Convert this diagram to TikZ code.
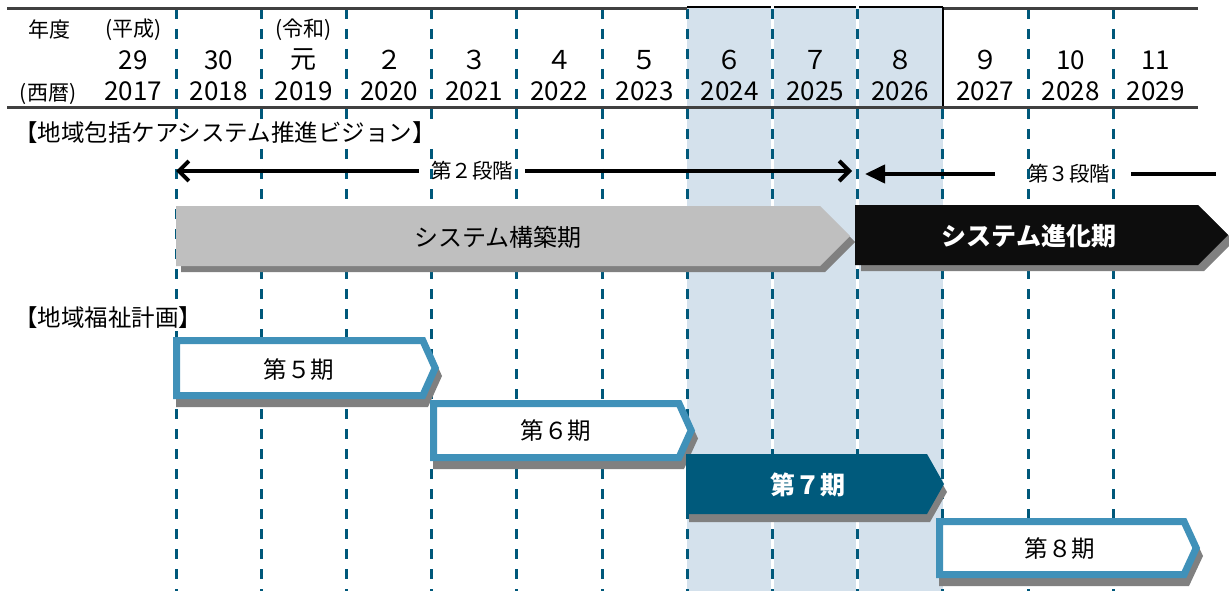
\documentclass[tikz,border=0pt]{standalone}
\usepackage{fontspec}
\setmainfont{Noto Sans CJK JP}
\usetikzlibrary{arrows.meta}
\definecolor{dashblue}{HTML}{00587A}
\definecolor{shadeblue}{HTML}{D4E1EC}
\definecolor{outblue}{HTML}{4091B9}
\definecolor{tealseven}{HTML}{005A7C}
\definecolor{bargray}{HTML}{BFBFBF}
\definecolor{shadowgray}{HTML}{808080}
\definecolor{barblack}{HTML}{0D0D0D}
\definecolor{hdrline}{HTML}{404040}
\begin{document}
\begin{tikzpicture}[x=1pt,y=-1pt,
  hdr/.style={inner sep=0pt, font=\fontsize{26}{30}\selectfont},
  hdrs/.style={inner sep=0pt, font=\fontsize{21}{25}\selectfont},
  ttl/.style={inner xsep=0pt, inner ysep=2pt, anchor=west, fill=white, font=\fontsize{23.5}{28}\selectfont},
  stg/.style={inner sep=0pt, font=\fontsize{20.5}{24}\selectfont},
  per/.style={inner sep=0pt, font=\fontsize{23.5}{27}\selectfont},
  bartext/.style={inner sep=0pt, font=\fontsize{24}{28}\selectfont},
  vline/.style={dashblue, line width=3pt, dash pattern=on 10pt off 10pt},
  stage/.style={line width=4pt},
  obox/.style={draw=outblue, line width=7pt, fill=white, miter limit=10},
]
\useasboundingbox (0,0) rectangle (1229,591);
\fill[white] (0,0) rectangle (1229,591);
% shaded years 2024-2026
\fill[shadeblue] (687.2,7) rectangle (942.8,591);
\draw[black, line width=2pt] (687.2,7) -- (942.8,7);
\foreach \i in {7,8}{
  \pgfmathsetmacro\xx{176+85.2*\i}
  \draw[white, line width=3pt] (\xx,4) -- (\xx,591);
}
% dashed year separators
\foreach \i in {0,...,11}{
  \pgfmathsetmacro\xx{176+85.2*\i}
  \ifnum\i=9
    \draw[vline] (\xx,109) -- (\xx,591);
  \else
    \draw[vline] (\xx,9) -- (\xx,591);
  \fi
}
% header lines
\draw[hdrline, line width=3pt] (7,8.5) -- (687.2,8.5);
\draw[hdrline, line width=3pt] (942.8,8.5) -- (1198.4,8.5);
\draw[hdrline, line width=3pt] (7,107.5) -- (1198.4,107.5);
\draw[black, line width=2pt] (942.8,7) -- (942.8,106);

% header texts
\node[hdrs] (nendo) at (49,30) {年度};
\node[hdrs] (seireki) at (48,94) {(西暦)};
\node[hdrs] (heisei) at (133.4,30) {(平成)};
\node[hdrs] (reiwa) at (303.8,30) {(令和)};
\foreach \n [count=\k from 0] in {29,30,元,２,３,４,５,６,７,８,９,10,11}{
  \node[hdr] (num\k) at ({133.4+85.2*\k},60) {\n};
}
\foreach \yr [count=\k from 0] in {2017,2018,2019,2020,2021,2022,2023,2024,2025,2026,2027,2028,2029}{
  \node[hdr] (yr\k) at ({133.4+85.2*\k},91) {\yr};
}

% vision
\node[ttl] (vision) at (14,133) {【地域包括ケアシステム推進ビジョン】};
\coordinate (a2l) at (176,171);
\coordinate (a2r) at (852,171);
\node[stg] (lab2) at (472,171) {第２段階};
\draw[stage, {Straight Barb[length=10pt,width=20pt]}-] (a2l) -- ([xshift=-12pt]lab2.west);
\draw[stage, -{Straight Barb[length=10pt,width=20pt]}] ([xshift=12pt]lab2.east) -- (a2r);
\coordinate (a3l) at (865,174);
\coordinate (a3r) at (1216,174);
\node[stg] (lab3) at (1069,174) {第３段階};
\draw[stage, {Triangle[length=20pt,width=18pt]}-] (a3l) -- ([xshift=-33pt]lab3.west);
\draw[stage] ([xshift=21pt]lab3.east) -- (a3r);

% system bars
\fill[shadowgray] (181,212) -- (825,212) -- (855,242) -- (825,272) -- (181,272) -- cycle;
\fill[bargray] (176,206) -- (820,206) -- (850,236) -- (820,266) -- (176,266) -- cycle;
\node[bartext] (build) at (498,237) {システム構築期};
\fill[shadowgray] (861,211) -- (1204,211) -- (1234,241) -- (1204,271) -- (861,271) -- cycle;
\fill[barblack] (855,205) -- (1198,205) -- (1228,235) -- (1198,265) -- (855,265) -- cycle;
\node[bartext, white, font=\fontsize{25}{29}\selectfont\bfseries] (evolve) at (1029,236) {システム進化期};

% welfare plan
\node[ttl] (welfare) at (14,318) {【地域福祉計画】};
% 5th
\fill[shadowgray] (176,345) -- (428,345) -- (442,376) -- (428,407) -- (176,407) -- cycle;
\draw[obox] (176.5,340.5) -- (422.8,340.5) -- (435.2,368) -- (422.8,395.5) -- (176.5,395.5) -- cycle;
\node[per] (p5) at (299,370) {第５期};
% 6th
\fill[shadowgray] (433,408) -- (684,408) -- (698,438.5) -- (684,469) -- (433,469) -- cycle;
\draw[obox] (433.5,403.5) -- (679,403.5) -- (691.2,430.5) -- (679,457.5) -- (433.5,457.5) -- cycle;
\node[per] (p6) at (556,431) {第６期};
% 7th
\fill[shadowgray] (689,462) -- (930,462) -- (947,492) -- (930,522) -- (689,522) -- cycle;
\fill[tealseven] (686,454) -- (927,454) -- (944,484) -- (927,514) -- (686,514) -- cycle;
\node[per, white, font=\fontsize{25}{29}\selectfont\bfseries] (p7) at (808,485) {第７期};
% 8th
\fill[shadowgray] (939,526) -- (1189,526) -- (1203,556) -- (1189,586) -- (939,586) -- cycle;
\draw[obox] (939.5,521.5) -- (1184,521.5) -- (1196.2,548) -- (1184,574.5) -- (939.5,574.5) -- cycle;
\node[per] (p8) at (1060,549) {第８期};
\end{tikzpicture}
\end{document}
